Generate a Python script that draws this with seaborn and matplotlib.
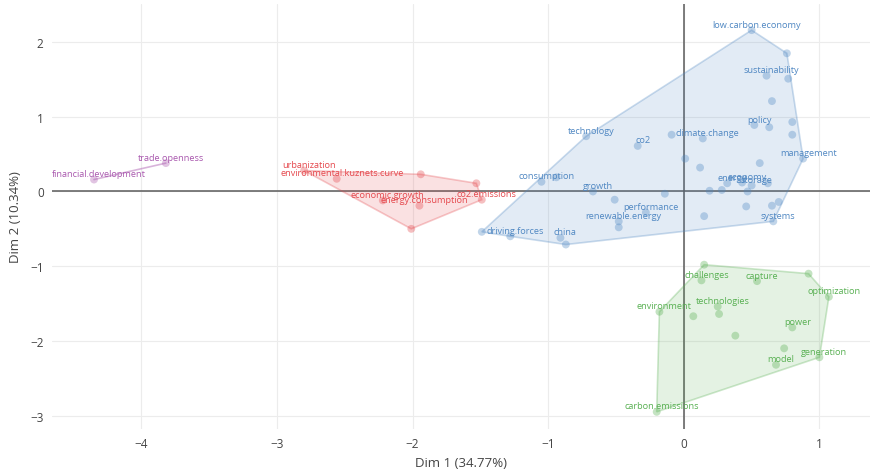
import numpy as np
import pandas as pd
import matplotlib
matplotlib.use("Agg")
import matplotlib.pyplot as plt
from matplotlib.patches import Polygon
import seaborn as sns

# ---- data ----
labels = [
    "financial.development", "trade.openness",
    "urbanization", "environmental.kuznets.curve", "", "", "co2.emissions",
    "energy.consumption", "economic.growth", "",
    "technology", "co2", "", "climate.change", "", "consumption", "",
    "growth", "", "", "performance", "renewable.energy", "",
    "", "driving.forces", "china", "",
    "low.carbon.economy", "", "sustainability", "", "", "policy", "", "", "",
    "management", "", "", "energy", "economy", "storage", "", "", "", "",
    "", "", "", "", "systems",
    "", "challenges", "", "capture", "optimization", "environment",
    "technologies", "", "", "", "power", "", "model", "generation",
    "carbon.emissions",
]
dim1 = [
    -4.35, -3.82,
    -2.80, -2.56, -1.94, -1.53, -1.49, -1.95, -2.22, -2.01,
    -0.72, -0.34, -0.09, 0.14, 0.01, -1.05, -0.94,
    -0.67, -0.51, -0.14, -0.28, -0.48, -0.48,
    -1.49, -1.28, -0.91, -0.87,
    0.50, 0.76, 0.61, 0.77, 0.65, 0.52, 0.63, 0.80, 0.80,
    0.88, 0.56, 0.12, 0.32, 0.43, 0.50, 0.62, 0.19, 0.28, 0.47,
    0.46, 0.65, 0.70, 0.15, 0.66,
    0.15, 0.13, 0.92, 0.54, 1.07, -0.18,
    0.25, 0.26, 0.07, 0.38, 0.80, 0.74, 0.68, 1.00,
    -0.20,
]
dim2 = [
    0.16, 0.38,
    0.28, 0.17, 0.23, 0.11, -0.11, -0.19, -0.12, -0.50,
    0.74, 0.61, 0.76, 0.71, 0.44, 0.13, 0.19,
    0.00, -0.11, -0.03, -0.28, -0.40, -0.48,
    -0.54, -0.60, -0.62, -0.71,
    2.16, 1.85, 1.55, 1.51, 1.21, 0.89, 0.86, 0.93, 0.76,
    0.44, 0.38, 0.32, 0.11, 0.12, 0.08, 0.11, 0.01, 0.02, 0.00,
    -0.20, -0.19, -0.14, -0.33, -0.40,
    -0.98, -1.19, -1.10, -1.20, -1.41, -1.61,
    -1.54, -1.64, -1.67, -1.93, -1.82, -2.10, -2.32, -2.22,
    -2.95,
]
cluster = (["4"] * 2 + ["2"] * 8 + ["1"] * 41 + ["3"] * 15)

x_label = "Dim 1 (34.77%)"
y_label = "Dim 2 (10.34%)"
x_ticks = [-4, -3, -2, -1, 0, 1]
y_ticks = [-3, -2, -1, 0, 1, 2]

palette = {"1": "#4f87c2", "2": "#e5484d", "3": "#58b052", "4": "#a958ae"}

df = pd.DataFrame({"label": labels, "dim1": dim1, "dim2": dim2, "cluster": cluster})


def convex_hull(pts):
    pts = sorted(set(pts))
    if len(pts) <= 2:
        return pts
    def cross(o, a, b):
        return (a[0] - o[0]) * (b[1] - o[1]) - (a[1] - o[1]) * (b[0] - o[0])
    lower, upper = [], []
    for p in pts:
        while len(lower) >= 2 and cross(lower[-2], lower[-1], p) <= 0:
            lower.pop()
        lower.append(p)
    for p in reversed(pts):
        while len(upper) >= 2 and cross(upper[-2], upper[-1], p) <= 0:
            upper.pop()
        upper.append(p)
    return lower[:-1] + upper[:-1]


sns.set_theme(style="white")
plt.rcParams["font.family"] = ["Open Sans", "DejaVu Sans"]

fig = plt.figure(figsize=(8.72, 4.77), dpi=100)
ax = fig.add_axes([0.0596, 0.0985, 0.9384, 0.891])

ax.set_xlim(-4.66, 1.375)
ax.set_ylim(-3.18, 2.51)

for t in x_ticks:
    ax.axvline(t, color="#ececec", lw=0.8, zorder=0)
for t in y_ticks:
    ax.axhline(t, color="#ececec", lw=0.8, zorder=0)
ax.axhline(0, color="#5a5a5a", lw=1.1, zorder=1)
ax.axvline(0, color="#5a5a5a", lw=1.1, zorder=1)

# hulls
for c, g in df.groupby("cluster"):
    hull = convex_hull(list(zip(g["dim1"], g["dim2"])))
    col = palette[c]
    if len(hull) >= 3:
        poly = Polygon(hull, closed=True, facecolor=col, alpha=0.16, edgecolor="none", zorder=2)
        ax.add_patch(poly)
        poly2 = Polygon(hull, closed=True, facecolor="none", edgecolor=col, alpha=0.3, lw=1.2, zorder=2)
        ax.add_patch(poly2)
    else:
        xs, ys = zip(*hull)
        ax.plot(xs, ys, color=col, alpha=0.45, lw=1.2, zorder=2)

sns.scatterplot(data=df, x="dim1", y="dim2", hue="cluster", palette=palette,
                s=32, alpha=0.35, edgecolor=None, linewidth=0, legend=False,
                ax=ax, zorder=3)

for _, r in df.iterrows():
    if r["label"]:
        ax.annotate(r["label"], (r["dim1"], r["dim2"]), xytext=(5, 6),
                    textcoords="offset pixels", ha="center", va="center",
                    fontsize=6.6, color=palette[r["cluster"]], zorder=4)

ax.set_xticks(x_ticks)
ax.set_yticks(y_ticks)
ax.set_xticklabels(["\u2212" + str(-t) if t < 0 else str(t) for t in x_ticks])
ax.set_yticklabels(["\u2212" + str(-t) if t < 0 else str(t) for t in y_ticks])
ax.tick_params(axis="both", length=0, labelsize=8.5, labelcolor="#444444", pad=6)
ax.set_xlabel(x_label, fontsize=9.5, color="#444444", labelpad=4)
ax.set_ylabel(y_label, fontsize=9.5, color="#444444", labelpad=6)
for s in ax.spines.values():
    s.set_visible(False)
ax.set_facecolor("white")

fig.savefig("out.png", dpi=100)
